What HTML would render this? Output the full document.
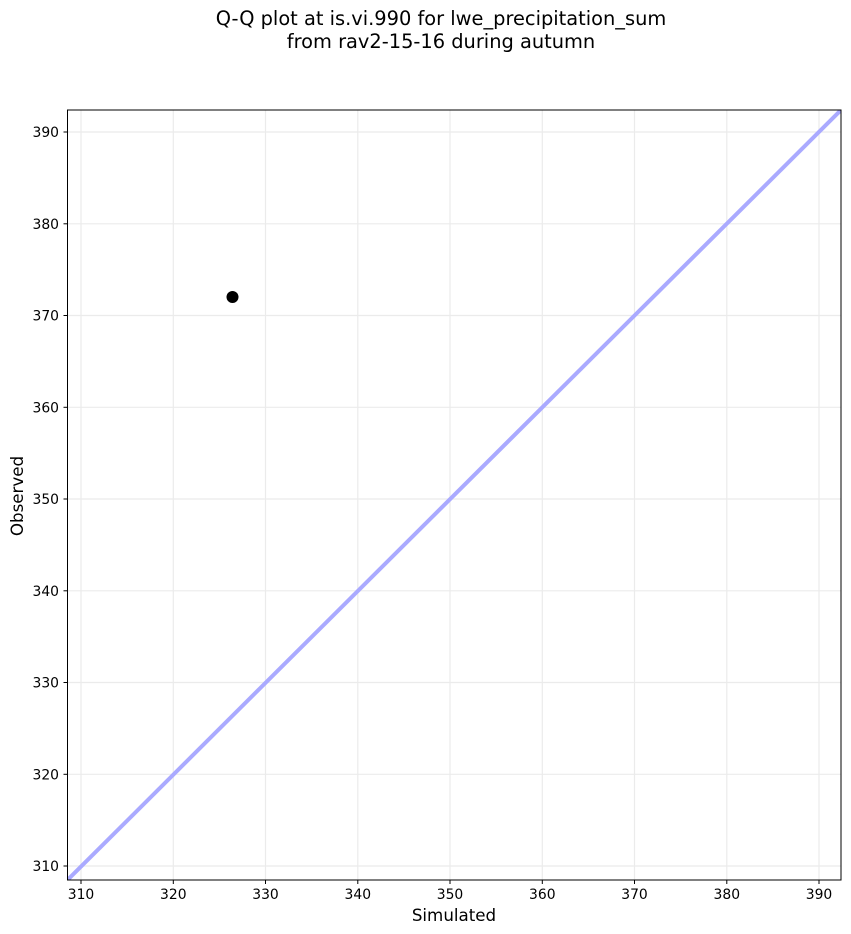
<!DOCTYPE html>
<html><head><meta charset="utf-8"><style>body{margin:0;background:#fff}svg{display:block}</style></head>
<body>
<svg width="851" height="934" xmlns="http://www.w3.org/2000/svg" font-family="DejaVu Sans, sans-serif">
<rect width="851" height="934" fill="#fff"/>
<text x="441" y="25" font-size="19.4" text-anchor="middle">Q-Q plot at is.vi.990 for lwe_precipitation_sum</text>
<text x="441" y="48" font-size="19.4" text-anchor="middle">from rav2-15-16 during autumn</text>
<g stroke="#ebebeb" stroke-width="1.2">
<line x1="81" y1="110" x2="81" y2="880"/><line x1="173.3" y1="110" x2="173.3" y2="880"/><line x1="265.5" y1="110" x2="265.5" y2="880"/><line x1="357.8" y1="110" x2="357.8" y2="880"/><line x1="450" y1="110" x2="450" y2="880"/><line x1="542.3" y1="110" x2="542.3" y2="880"/><line x1="634.5" y1="110" x2="634.5" y2="880"/><line x1="726.8" y1="110" x2="726.8" y2="880"/><line x1="819" y1="110" x2="819" y2="880"/>
<line x1="67.5" y1="866" x2="841" y2="866"/><line x1="67.5" y1="774.3" x2="841" y2="774.3"/><line x1="67.5" y1="682.5" x2="841" y2="682.5"/><line x1="67.5" y1="590.8" x2="841" y2="590.8"/><line x1="67.5" y1="499" x2="841" y2="499"/><line x1="67.5" y1="407.3" x2="841" y2="407.3"/><line x1="67.5" y1="315.5" x2="841" y2="315.5"/><line x1="67.5" y1="223.8" x2="841" y2="223.8"/><line x1="67.5" y1="132" x2="841" y2="132"/>
</g>
<svg x="67.5" y="110" width="773.5" height="770" overflow="hidden"><line x1="0" y1="770" x2="773.5" y2="0" stroke="#aaaaff" stroke-width="4"/></svg>
<circle cx="232.5" cy="297" r="6" fill="#000"/>
<rect x="67.5" y="110" width="773.5" height="770" fill="none" stroke="#000" stroke-width="1"/>
<g stroke="#000"><line x1="81" y1="880" x2="81" y2="884"/><line x1="173.3" y1="880" x2="173.3" y2="884"/><line x1="265.5" y1="880" x2="265.5" y2="884"/><line x1="357.8" y1="880" x2="357.8" y2="884"/><line x1="450" y1="880" x2="450" y2="884"/><line x1="542.3" y1="880" x2="542.3" y2="884"/><line x1="634.5" y1="880" x2="634.5" y2="884"/><line x1="726.8" y1="880" x2="726.8" y2="884"/><line x1="819" y1="880" x2="819" y2="884"/>
<line x1="63.5" y1="866" x2="67.5" y2="866"/><line x1="63.5" y1="774.3" x2="67.5" y2="774.3"/><line x1="63.5" y1="682.5" x2="67.5" y2="682.5"/><line x1="63.5" y1="590.8" x2="67.5" y2="590.8"/><line x1="63.5" y1="499" x2="67.5" y2="499"/><line x1="63.5" y1="407.3" x2="67.5" y2="407.3"/><line x1="63.5" y1="315.5" x2="67.5" y2="315.5"/><line x1="63.5" y1="223.8" x2="67.5" y2="223.8"/><line x1="63.5" y1="132" x2="67.5" y2="132"/></g>
<g font-size="13.9" text-anchor="middle"><text x="81" y="899">310</text><text x="173.3" y="899">320</text><text x="265.5" y="899">330</text><text x="357.8" y="899">340</text><text x="450" y="899">350</text><text x="542.3" y="899">360</text><text x="634.5" y="899">370</text><text x="726.8" y="899">380</text><text x="819" y="899">390</text></g>
<g font-size="13.9" text-anchor="end"><text x="59" y="871">310</text><text x="59" y="779.3">320</text><text x="59" y="687.5">330</text><text x="59" y="595.8">340</text><text x="59" y="504">350</text><text x="59" y="412.3">360</text><text x="59" y="320.5">370</text><text x="59" y="228.8">380</text><text x="59" y="137">390</text></g>
<text x="454" y="921" font-size="16.7" text-anchor="middle">Simulated</text>
<text x="23" y="496" font-size="16.7" text-anchor="middle" transform="rotate(-90 23 496)">Observed</text>
</svg>
</body></html>
